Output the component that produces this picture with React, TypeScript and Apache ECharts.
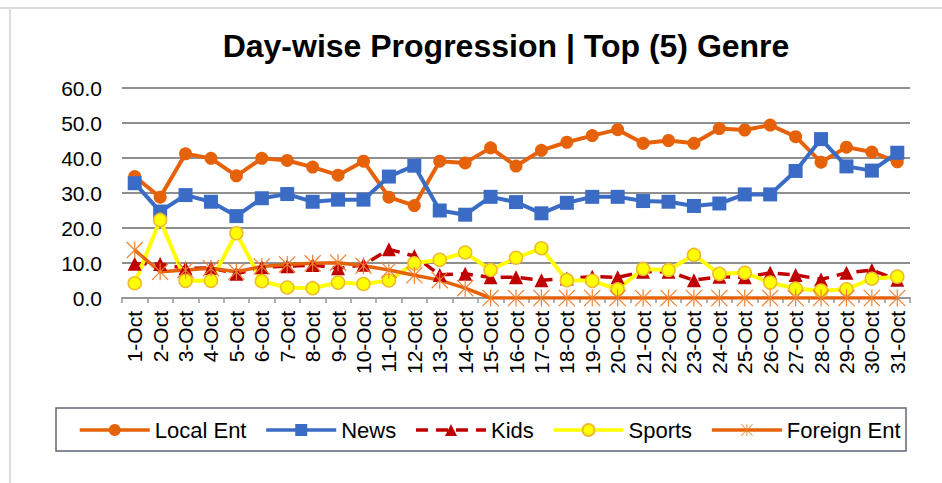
import React, { useEffect, useRef } from "react";
import * as echarts from "echarts";

const categories = [
  "1-Oct", "2-Oct", "3-Oct", "4-Oct", "5-Oct", "6-Oct", "7-Oct", "8-Oct", "9-Oct", "10-Oct",
  "11-Oct", "12-Oct", "13-Oct", "14-Oct", "15-Oct", "16-Oct", "17-Oct", "18-Oct", "19-Oct", "20-Oct",
  "21-Oct", "22-Oct", "23-Oct", "24-Oct", "25-Oct", "26-Oct", "27-Oct", "28-Oct", "29-Oct", "30-Oct", "31-Oct",
];

const localEnt = [
  34.7, 28.8, 41.2, 39.9, 34.9, 39.9, 39.3, 37.4, 35.1, 39.1,
  28.8, 26.4, 39.1, 38.6, 42.9, 37.7, 42.2, 44.5, 46.4, 48.1,
  44.2, 45.0, 44.2, 48.4, 48.0, 49.4, 46.1, 38.8, 43.1, 41.7, 38.9,
];
const news = [
  32.8, 24.7, 29.4, 27.5, 23.4, 28.5, 29.7, 27.5, 28.1, 28.1,
  34.7, 37.8, 25.0, 23.8, 28.9, 27.4, 24.2, 27.2, 28.9, 28.9,
  27.7, 27.5, 26.3, 27.0, 29.6, 29.6, 36.3, 45.4, 37.6, 36.4, 41.5,
];
const kids = [
  9.8, 9.7, 8.5, 8.6, 6.9, 8.8, 9.1, 9.4, 8.5, 9.5,
  13.9, 12.0, 6.6, 6.9, 5.9, 5.9, 5.1, 5.6, 6.1, 5.9,
  7.5, 7.5, 5.1, 6.1, 5.9, 7.2, 6.6, 5.3, 7.2, 8.0, 5.2,
];
const sports = [
  4.2, 22.3, 4.9, 4.9, 18.5, 4.8, 3.0, 2.8, 4.4, 4.0,
  5.0, 9.9, 10.9, 13.0, 8.0, 11.5, 14.2, 5.1, 4.9, 2.5,
  8.3, 8.0, 12.3, 6.9, 7.2, 4.4, 2.7, 2.1, 2.5, 5.5, 6.1,
];
const foreignEnt = [
  13.7, 7.5, 8.0, 8.5, 7.5, 9.0, 9.6, 9.9, 10.1, 9.2,
  8.0, 6.5, 5.1, 2.8, 0, 0, 0, 0, 0, 0,
  0, 0, 0, 0, 0, 0, 0, 0, 0, 0, 0,
];

const seriesNames = ["Local Ent", "News", "Kids", "Sports", "Foreign Ent"];
const yTickMin = 0;
const yTickMax = 60;
const yTickStep = 10;

const FONT = "'Liberation Sans', Arial, sans-serif";
const ASTERISK =
  "path://M9.3,0L10.7,0L10.7,20L9.3,20Z M0,1L1,0L20,19L19,20Z M19,0L20,1L1,20L0,19Z";

export default function App() {
  const ref = useRef<HTMLDivElement>(null);

  useEffect(() => {
    if (!ref.current) return;
    const chart = echarts.init(ref.current, undefined, { renderer: "svg" });
    const orange = "#e5620a";
    const option = {
      animation: false,
      backgroundColor: "#ffffff",
      graphic: [
        { type: "line", shape: { x1: 0, y1: 8, x2: 942, y2: 8 }, style: { stroke: "#dcdcdc", lineWidth: 2 } },
        { type: "line", shape: { x1: 10, y1: 8, x2: 10, y2: 483 }, style: { stroke: "#dcdcdc", lineWidth: 2 } },
        {
          type: "text",
          x: 506,
          y: 46,
          style: {
            text: "Day-wise Progression | Top (5) Genre",
            font: `bold 32px ${FONT}`,
            fill: "#000",
            textAlign: "center",
            textVerticalAlign: "middle",
          },
        },
        {
          type: "rect",
          shape: { x: 56, y: 408, width: 850, height: 43 },
          style: { fill: "none", stroke: "#5d6776", lineWidth: 1.5 },
        },
      ],
      grid: { left: 122, right: 32, top: 88, bottom: 185, containLabel: false },
      xAxis: {
        type: "category",
        data: categories,
        boundaryGap: true,
        axisLine: { show: true, lineStyle: { color: "#969696", width: 2 } },
        axisTick: { show: true, length: 5, alignWithLabel: false, lineStyle: { color: "#969696", width: 1.5 } },
        axisLabel: {
          rotate: 90,
          interval: 0,
          margin: 13,
          fontSize: 21,
          fontFamily: FONT,
          color: "#000",
        },
      },
      yAxis: {
        type: "value",
        min: yTickMin,
        max: yTickMax,
        interval: yTickStep,
        axisLine: { show: false },
        axisTick: { show: false },
        axisLabel: {
          margin: 20,
          fontSize: 21,
          fontFamily: FONT,
          color: "#000",
          formatter: (v: number) => v.toFixed(1),
        },
        splitLine: { show: true, lineStyle: { color: "#8f8f8f", width: 2 } },
      },
      legend: {
        left: 73,
        top: 414,
        itemWidth: 70,
        itemHeight: 15,
        itemGap: 18,
        data: seriesNames,
        lineStyle: { width: 3.5 },
        textStyle: { fontSize: 22, fontFamily: FONT, color: "#000" },
      },
      series: [
        {
          name: seriesNames[0],
          type: "line",
          data: localEnt,
          symbol: "circle",
          symbolSize: 13,
          lineStyle: { color: orange, width: 4 },
          itemStyle: { color: orange },
        },
        {
          name: seriesNames[1],
          type: "line",
          data: news,
          symbol: "rect",
          symbolSize: 14,
          lineStyle: { color: "#3a6cc6", width: 4 },
          itemStyle: { color: "#3a6cc6" },
        },
        {
          name: seriesNames[2],
          type: "line",
          data: kids,
          symbol: "triangle",
          symbolSize: 14,
          lineStyle: { color: "#c00000", width: 3.5, type: [12, 8] },
          itemStyle: { color: "#c00000" },
        },
        {
          name: seriesNames[3],
          type: "line",
          data: sports,
          symbol: "circle",
          symbolSize: 13,
          lineStyle: { color: "#ffff00", width: 4 },
          itemStyle: { color: "#ffff00", borderColor: "#f0b92e", borderWidth: 1.5 },
        },
        {
          name: seriesNames[4],
          type: "line",
          data: foreignEnt,
          symbol: ASTERISK,
          symbolSize: 17,
          lineStyle: { color: orange, width: 3.5 },
          itemStyle: { color: "#f07f2e" },
        },
      ],
    };
    chart.setOption(option as any);
    return () => chart.dispose();
  }, []);

  return (
    <div
      ref={ref}
      style={{ position: "fixed", left: 0, top: 0, width: 942, height: 483 }}
    />
  );
}
